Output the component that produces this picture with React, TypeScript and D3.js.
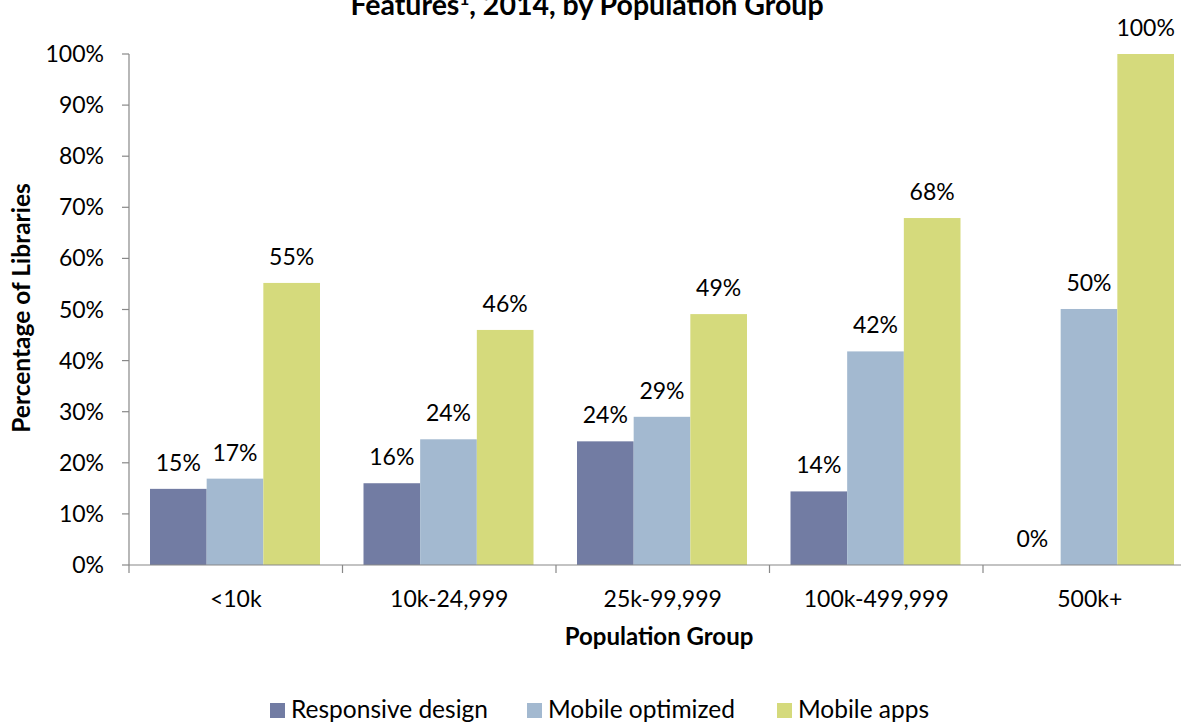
import React from "react";
import * as d3 from "d3";

const categories = ["<10k", "10k-24,999", "25k-99,999", "100k-499,999", "500k+"];
const seriesNames = ["Responsive design", "Mobile optimized", "Mobile apps"];
const responsive = [14.9, 16.0, 24.2, 14.4, 0];
const optimized = [16.9, 24.6, 29.0, 41.8, 50.1];
const apps = [55.2, 46.0, 49.1, 67.9, 100];
const labelsResponsive = ["15%", "16%", "24%", "14%", "0%"];
const labelsOptimized = ["17%", "24%", "29%", "42%", "50%"];
const labelsApps = ["55%", "46%", "49%", "68%", "100%"];
const yTicks = [0, 10, 20, 30, 40, 50, 60, 70, 80, 90, 100];
const colors = ["#727CA3", "#A3B9D0", "#D5DA7C"];

const FONT = "Lato, 'Open Sans', sans-serif";

export default function App() {
  const W = 1181, H = 723;
  const left = 129, bottom = 565, top = 54;
  const catW = 213.5;
  const x = d3.scaleBand<string>().domain(categories).range([left, left + catW * categories.length]).paddingInner(0).paddingOuter(0);
  const y = d3.scaleLinear().domain([0, 100]).range([bottom, top]);
  const inner = d3.scaleBand<number>().domain([0, 1, 2]).range([21, 21 + 170]);
  const series = [responsive, optimized, apps];
  const labels = [labelsResponsive, labelsOptimized, labelsApps];

  return (
    <svg width={W} height={H} style={{ display: "block", position: "absolute", left: 0, top: 0 }} fontFamily={FONT}>
      <rect width={W} height={H} fill="#fff" />
      <text x={587} y={15} textAnchor="middle" fontSize={28.5} fontWeight="bold" fill="#000">
        Features<tspan fontSize={17} dy={-10}>1</tspan><tspan dy={10}>, 2014, by Population Group</tspan>
      </text>
      {/* y axis */}
      <line x1={left} x2={left} y1={top} y2={bottom} stroke="#888" strokeWidth={1.2} />
      {yTicks.map((t) => (
        <g key={t}>
          <line x1={left - 7} x2={left} y1={y(t)} y2={y(t)} stroke="#888" strokeWidth={1.2} />
          <text x={104} y={y(t)} dy="0.35em" textAnchor="end" fontSize={23} fill="#000">{t}%</text>
        </g>
      ))}
      {/* bars */}
      {categories.map((c, ci) => (
        <g key={c}>
          {series.map((s, si) => {
            const bx = (x(c) as number) + (inner(si) as number);
            const bw = inner.bandwidth();
            return (
              <g key={si}>
                {s[ci] > 0 && <rect x={bx} y={y(s[ci])} width={bw} height={bottom - y(s[ci])} fill={colors[si]} />}
                <text x={bx + bw / 2} y={y(s[ci]) - 18} textAnchor="middle" fontSize={23} fill="#000">{labels[si][ci]}</text>
              </g>
            );
          })}
          <text x={(x(c) as number) + catW / 2} y={607} textAnchor="middle" fontSize={23} fill="#000">{c}</text>
        </g>
      ))}
      {/* x axis */}
      <line x1={left} x2={left + catW * 5} y1={bottom} y2={bottom} stroke="#888" strokeWidth={1.2} />
      {d3.range(categories.length + 1).map((i) => (
        <line key={i} x1={left + i * catW} x2={left + i * catW} y1={bottom} y2={bottom + 8} stroke="#888" strokeWidth={1.2} />
      ))}
      <text x={659} y={645} textAnchor="middle" fontSize={24} fontWeight="bold" fill="#000">Population Group</text>
      <text transform={`translate(30,${308}) rotate(-90)`} textAnchor="middle" fontSize={24.5} fontWeight="bold" fill="#000">Percentage of Libraries</text>
      {/* legend */}
      {[{ x: 270, n: 0 }, { x: 527, n: 1 }, { x: 777, n: 2 }].map((l) => (
        <g key={l.n}>
          <rect x={l.x} y={703} width={15} height={15} fill={colors[l.n]} />
          <text x={l.x + 21} y={718} fontSize={24.5} fill="#000">{seriesNames[l.n]}</text>
        </g>
      ))}
    </svg>
  );
}
